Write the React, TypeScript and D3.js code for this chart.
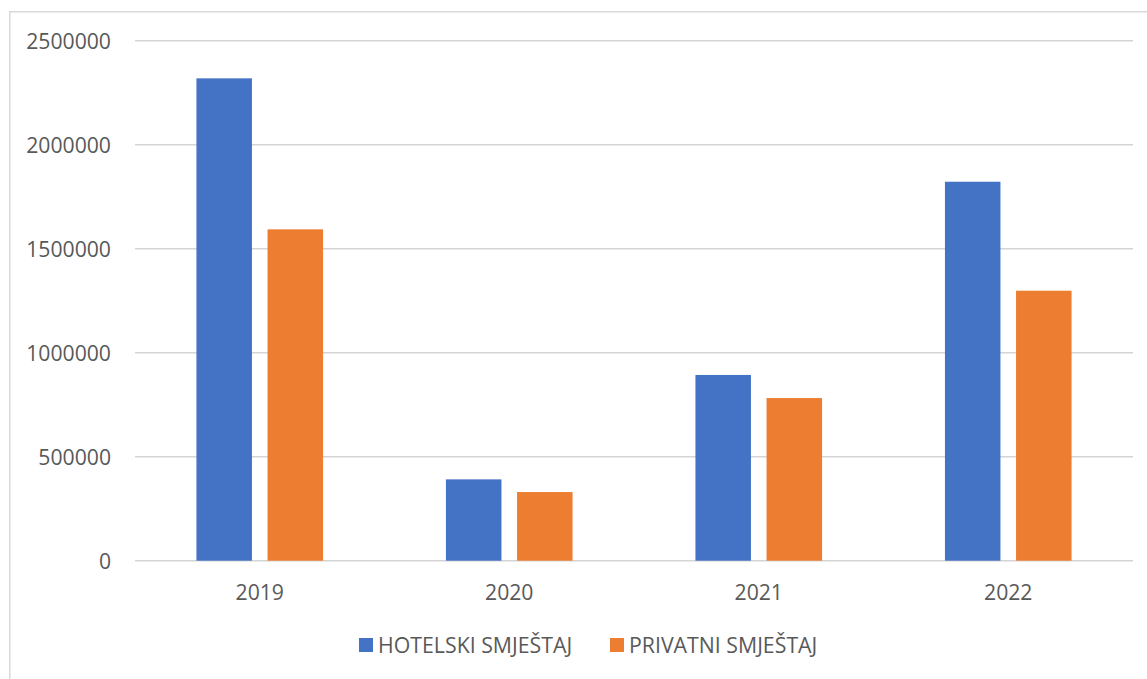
import React, { useRef, useEffect } from 'react';
import * as d3 from 'd3';

const years = ['2019', '2020', '2021', '2022'];
const hotelski = [2319000, 391000, 893000, 1822000];
const privatni = [1593000, 330000, 782000, 1298000];
const seriesNames = ['HOTELSKI SMJEŠTAJ', 'PRIVATNI SMJEŠTAJ'];
const yTicks = [0, 500000, 1000000, 1500000, 2000000, 2500000];

const COLORS = ['#4472C4', '#ED7D31'];
const FONT = '"Open Sans", sans-serif';

export default function App() {
  const ref = useRef<SVGSVGElement | null>(null);

  useEffect(() => {
    document.body.style.margin = '0';
    const svg = d3.select(ref.current);
    svg.selectAll('*').remove();

    const W = 1147;
    const H = 679;
    const left = 135;
    const right = 1133;
    const top = 40.7;
    const bottom = 560.7;

    svg.attr('width', W).attr('height', H);

    // chart border
    svg.append('rect')
      .attr('x', 9.75)
      .attr('y', 11.75)
      .attr('width', W + 20)
      .attr('height', H + 20)
      .attr('fill', '#fff')
      .attr('stroke', '#d9d9d9')
      .attr('stroke-width', 1.5);

    const x = d3.scaleBand().domain(years).range([left, right]).padding(0);
    const y = d3.scaleLinear().domain([0, 2500000]).range([bottom, top]);

    // grid
    svg.append('g')
      .selectAll('line')
      .data(yTicks)
      .join('line')
      .attr('x1', left)
      .attr('x2', right)
      .attr('y1', d => y(d))
      .attr('y2', d => y(d))
      .attr('stroke', '#d4d4d4')
      .attr('stroke-width', 1.6);

    // y labels
    svg.append('g')
      .selectAll('text')
      .data(yTicks)
      .join('text')
      .attr('x', 111)
      .attr('y', d => y(d) + 7.8)
      .attr('text-anchor', 'end')
      .attr('font-family', FONT)
      .attr('font-size', 21.2)
      .attr('fill', '#595959')
      .text(d => String(d));

    // x labels
    svg.append('g')
      .selectAll('text')
      .data(years)
      .join('text')
      .attr('x', d => x(d)! + x.bandwidth() / 2)
      .attr('y', 600)
      .attr('text-anchor', 'middle')
      .attr('font-family', FONT)
      .attr('font-size', 21.2)
      .attr('fill', '#595959')
      .text(d => d);

    // bars
    const bw = x.bandwidth();
    const barW = bw * 0.2225;
    const gap = bw * 0.0625;
    const groupW = barW * 2 + gap;
    const data = [hotelski, privatni];
    data.forEach((vals, si) => {
      svg.append('g')
        .attr('fill', COLORS[si])
        .selectAll('rect')
        .data(vals)
        .join('rect')
        .attr('x', (_, i) => x(years[i])! + bw / 2 - groupW / 2 + si * (barW + gap))
        .attr('y', d => y(d))
        .attr('width', barW)
        .attr('height', d => y(0) - y(d));
    });

    // legend
    const legendX = [359, 610];
    const lg = svg.append('g');
    seriesNames.forEach((name, i) => {
      lg.append('rect')
        .attr('x', legendX[i])
        .attr('y', 638)
        .attr('width', 14)
        .attr('height', 14)
        .attr('fill', COLORS[i]);
      lg.append('text')
        .attr('x', legendX[i] + 19)
        .attr('y', 652.5)
        .attr('font-family', FONT)
        .attr('font-size', 21.3)
        .attr('fill', '#595959')
        .text(name);
    });
  }, []);

  return <svg ref={ref} style={{ display: 'block' }} />;
}
